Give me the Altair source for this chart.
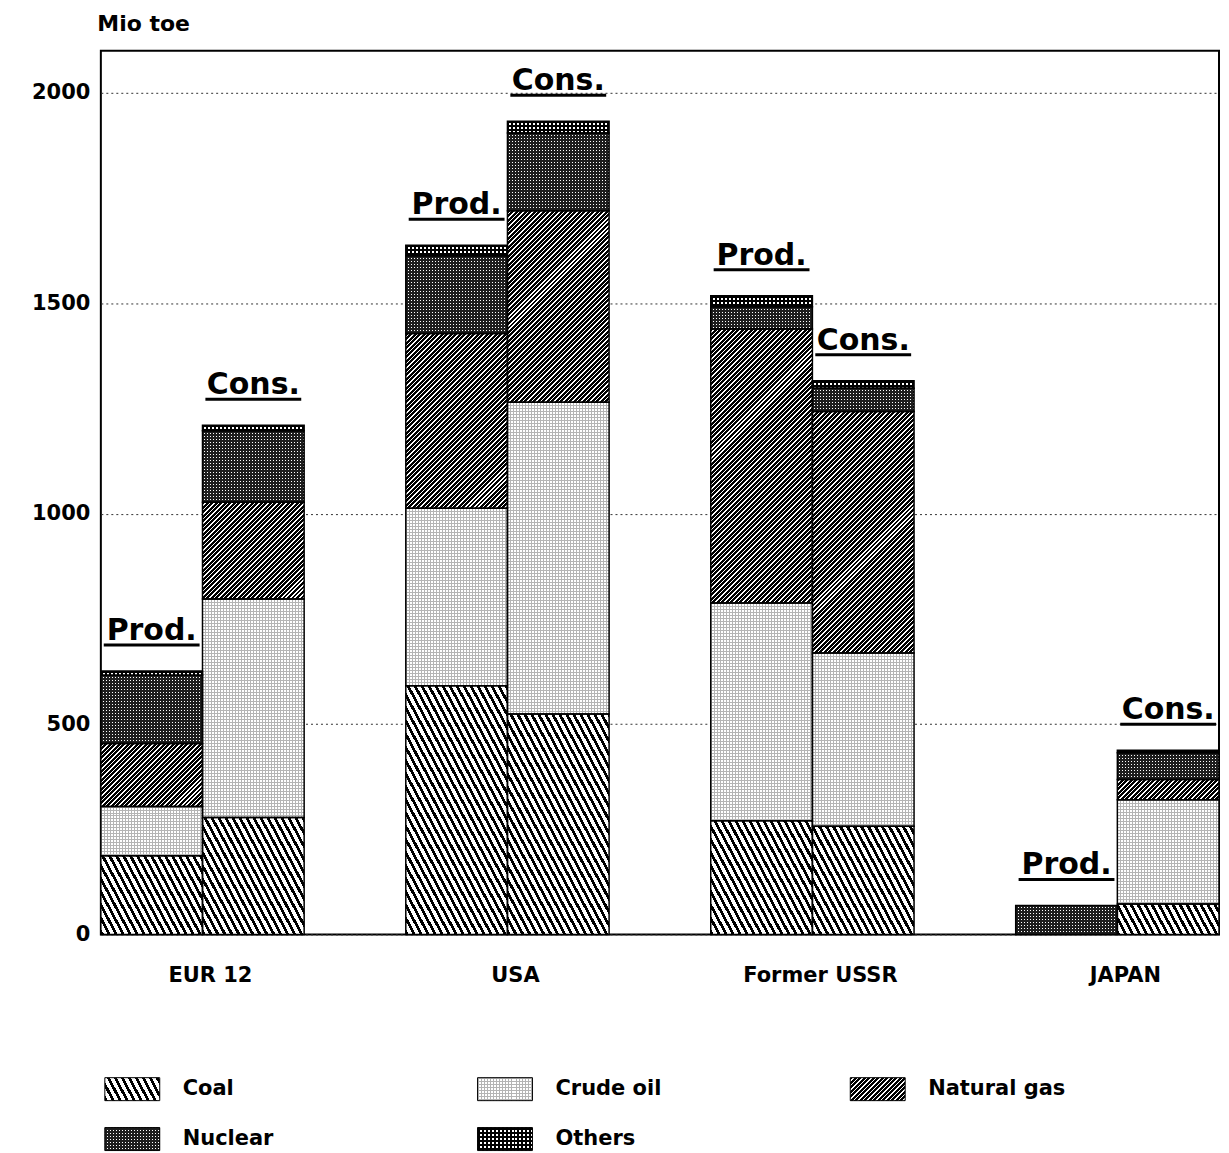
import math
import altair as alt
import pandas as pd

# ---------------- data (Mio toe) ----------------
countries = ["EUR 12", "USA", "Former USSR", "JAPAN"]
kinds = ["Prod.", "Cons."]
sources = ["Coal", "Crude oil", "Natural gas", "Nuclear", "Others"]

coal_prod = [187, 591, 270, 0]
coal_cons = [278, 524, 257, 72]
crude_prod = [117, 422, 518, 0]
crude_cons = [519, 741, 412, 248]
gas_prod = [150, 415, 651, 0]
gas_cons = [230, 455, 574, 48]
nuclear_prod = [162, 185, 53, 69]
nuclear_cons = [170, 185, 55, 64]
others_prod = [10, 25, 26, 0]
others_cons = [13, 28, 18, 6]

y_ticks = [0, 500, 1000, 1500, 2000]
legend_col = [0, 1, 2, 0, 1]
legend_row = [0, 0, 0, 1, 1]

# ---------------- tables ----------------
prod = [coal_prod, crude_prod, gas_prod, nuclear_prod, others_prod]
cons = [coal_cons, crude_cons, gas_cons, nuclear_cons, others_cons]
rows = []
for ci, c in enumerate(countries):
    for kind, table in (("Prod.", prod), ("Cons.", cons)):
        base = 0
        for si, s in enumerate(sources):
            v = table[si][ci]
            if v > 0:
                rows.append(dict(country=c, kind=kind, source=s, start=base,
                                 end=base + v, seg=len(rows)))
            base += v
seg_df = pd.DataFrame(rows)
totals_df = (seg_df.groupby(["country", "kind"], as_index=False)["end"].max()
             .rename(columns={"end": "total"}))
legend_df = pd.DataFrame({"source": sources, "col": legend_col, "row": legend_row})

# ---------------- geometry ----------------
W, H, YMAX = 1120, 885, 2100
STEP = W / (4 - 1 / 3)
SUB_W = STEP * (2 / 3) / 2
PX = H / YMAX
SW_W, SW_H = 55, 23
LEG_STEP = W / 3

FONT = "DejaVu Sans"
CLEAR = "rgba(255,255,255,0)"


def make_stops(S, period, frac, dark, light):
    out = []
    n = int(math.ceil(S / period))
    for k in range(n):
        a = round(k * period / S, 5)
        b = round(min((k + frac) * period / S, 1.0), 5)
        c = round(min((k + 1) * period / S, 1.0), 5)
        out += [{"offset": a, "color": dark}, {"offset": b, "color": dark},
                {"offset": b, "color": light}, {"offset": c, "color": light}]
    return out


def diag(w, h, theta, back, period, frac, dark, light):
    th = math.radians(theta)
    if back:
        nx, ny, p1 = math.sin(th), -math.cos(th), (0.0, 1.0)
    else:
        nx, ny, p1 = math.sin(th), math.cos(th), (0.0, 0.0)
    S = abs(nx) * w + abs(ny) * h
    gx, gy = nx * w / S, ny * h / S
    g2 = gx * gx + gy * gy
    return {"gradient": "linear", "x1": p1[0], "y1": p1[1],
            "x2": p1[0] + gx / g2, "y2": p1[1] + gy / g2,
            "stops": make_stops(S, period * math.sin(th), frac, dark, light)}


def lines(w, h, horiz, period, frac, dark, light):
    if horiz:
        return {"gradient": "linear", "x1": 0, "y1": 0, "x2": 0, "y2": 1,
                "stops": make_stops(h, period, frac, dark, light)}
    return {"gradient": "linear", "x1": 0, "y1": 0, "x2": 1, "y2": 0,
            "stops": make_stops(w, period, frac, dark, light)}


def pattern_fills(source, w, h):
    if source == "Coal":
        return [diag(w, h, 62, True, 7.0, 0.45, "#000000", "#ffffff")]
    if source == "Natural gas":
        return [diag(w, h, 45, False, 4.5, 0.66, "#000000", "#ffffff")]
    if source == "Crude oil":
        return [lines(w, h, True, 3, 1 / 3, "#b4b4b4", "#ffffff"),
                lines(w, h, False, 3, 1 / 3, "#b4b4b4", CLEAR)]
    if source == "Nuclear":
        return [lines(w, h, True, 3, 2 / 3, "#1e1e1e", "#ffffff"),
                lines(w, h, False, 3, 2 / 3, "#1e1e1e", CLEAR)]
    return [lines(w, h, True, 4, 0.5, "#000000", "#ffffff"),
            lines(w, h, False, 4, 0.5, "#000000", CLEAR)]


# ---------------- main chart ----------------
x_enc = alt.X("country:N", sort=countries,
              scale=alt.Scale(paddingInner=1 / 3, paddingOuter=0),
              axis=alt.Axis(title=None, labelAngle=0, labelFont=FONT,
                            labelFontSize=21, labelFontWeight="bold",
                            labelPadding=30, labelOffset=8, ticks=False,
                            domain=False, labelColor="black", grid=False))
xo_enc = alt.XOffset("kind:N", sort=kinds,
                     scale=alt.Scale(paddingInner=0, paddingOuter=0))
y_axis = alt.Axis(values=y_ticks, format="d", title="Mio toe", titleAngle=0,
                  titleAlign="left", titleBaseline="alphabetic",
                  titleX=-4, titleY=-20, titleFont=FONT, titleFontSize=22,
                  titleFontWeight="bold", titleColor="black",
                  labelFont=FONT, labelFontSize=21, labelFontWeight="bold",
                  labelColor="black", labelPadding=11, ticks=False,
                  domain=False, grid=True, gridDash=[2, 3],
                  gridColor="#333333", gridWidth=1)
y_scale = alt.Scale(domain=[0, YMAX], nice=False)

base = alt.Chart(seg_df).encode(
    x=x_enc, xOffset=xo_enc,
    y=alt.Y("start:Q", scale=y_scale, axis=y_axis),
    y2="end:Q",
)

layers = []
for r in rows:
    h = (r["end"] - r["start"]) * PX
    for fill in pattern_fills(r["source"], SUB_W, h):
        layers.append(base.transform_filter(alt.datum.seg == r["seg"])
                      .mark_bar(fill=fill))
layers.append(base.mark_bar(fill="transparent", stroke="black", strokeWidth=1.5))

lab_base = alt.Chart(totals_df).encode(
    x=x_enc, xOffset=xo_enc,
    y=alt.Y("total:Q", scale=y_scale, axis=y_axis),
)
layers.append(lab_base.mark_text(font=FONT, fontSize=30, fontWeight="bold",
                                 baseline="alphabetic", align="center",
                                 dy=-31, color="black").encode(text="kind:N"))
layers.append(lab_base.mark_tick(orient="horizontal", size=96, thickness=3,
                                 yOffset=-26, color="black", opacity=1))

main = alt.layer(*layers).properties(width=W, height=H)

# ---------------- legend ----------------
lx = alt.X("col:O", scale=alt.Scale(domain=[0, 1, 2], paddingInner=0,
                                    paddingOuter=0), axis=None)
ly = alt.Y("row:O", scale=alt.Scale(domain=[0, 1], paddingInner=0.8,
                                    paddingOuter=0), axis=None)
lbase = alt.Chart(legend_df).encode(x=lx, y=ly)
leg_layers = []
for s in sources:
    for fill in pattern_fills(s, SW_W, SW_H):
        leg_layers.append(lbase.transform_filter(alt.datum.source == s)
                          .mark_rect(width=SW_W, height=SW_H, fill=fill,
                                     xOffset=31.5 - LEG_STEP / 2))
    leg_layers.append(lbase.transform_filter(alt.datum.source == s)
                      .mark_rect(width=SW_W, height=SW_H, fill="transparent",
                                 stroke="black", strokeWidth=1,
                                 xOffset=31.5 - LEG_STEP / 2))
leg_layers.append(lbase.mark_text(align="left", baseline="middle", font=FONT,
                                  fontSize=21, fontWeight="bold", color="black",
                                  dx=82 - LEG_STEP / 2).encode(text="source:N"))
legend = alt.layer(*leg_layers).properties(
    width=W, height=60, view=alt.ViewBackground(stroke="transparent"))

chart = (alt.vconcat(main, legend, spacing=90)
         .configure_view(stroke="black", strokeWidth=2)
         .properties(padding={"left": 22, "top": 3, "right": 0, "bottom": 0}))

chart.save("out.html", embed_options={"renderer": "svg", "actions": False})
